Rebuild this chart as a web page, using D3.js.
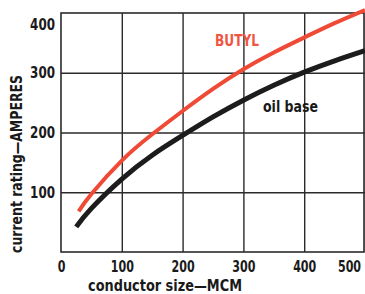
<!DOCTYPE html>
<html>
<head>
<meta charset="utf-8">
<script src="https://cdn.jsdelivr.net/npm/d3@7"></script>
<style>
  body { margin: 0; background: #fff; }
  svg { display: block; }
  text { font-family: "Liberation Sans Narrow", "DejaVu Sans Condensed", "Arial Narrow", sans-serif; font-weight: bold; }
</style>
</head>
<body>
<script>
const width = 365
const height = 294

// conductor size (MCM) and current rating (amperes)
const butylSize = [29, 50, 100, 150, 200, 250, 300, 350, 400, 450, 500]
const butylAmps = [68, 97, 153, 197, 236, 273, 306, 334, 359, 383, 405]
const oilSize = [25, 50, 100, 150, 200, 250, 300, 350, 400, 450, 500]
const oilAmps = [42, 73, 122, 162, 195, 226, 254, 279, 301, 320, 337]

const xTicks = [0, 100, 200, 300, 400, 500]
const yTicks = [100, 200, 300, 400]

const colors = {
    butyl: '#ef4a36',
    butylLabel: '#f0553f',
    oil: '#1c1c1c',
    grid: '#2b2b2b',
    text: '#1a1a1a'
}

const margin = {left: 61, top: 13, right: 0, bottom: 42}

const x = d3.scaleLinear().domain([0, 500]).range([margin.left, width - margin.right])
const y = d3.scaleLinear().domain([0, 400]).range([height - margin.bottom, margin.top])

const svg = d3.select('body')
    .append('svg')
    .attr('width', width)
    .attr('height', height)

// grid
svg.append('g')
    .attr('transform', `translate(0,${y(0)})`)
    .call(d3.axisBottom(x).tickValues(xTicks.slice(1)).tickSize(-(y(0) - y(400))).tickFormat(''))
    .call(g => g.select('.domain').remove())
    .call(g => g.selectAll('line').attr('stroke', colors.grid).attr('stroke-width', 1.4))

svg.append('g')
    .attr('transform', `translate(${x(0)},0)`)
    .call(d3.axisLeft(y).tickValues(yTicks.slice(0, 3)).tickSize(-(x(500) - x(0))).tickFormat(''))
    .call(g => g.select('.domain').remove())
    .call(g => g.selectAll('line').attr('stroke', colors.grid).attr('stroke-width', 1.4))

// frame
svg.append('rect')
    .attr('x', x(0))
    .attr('y', y(400))
    .attr('width', x(500) - x(0) - 1)
    .attr('height', y(0) - y(400))
    .attr('fill', 'none')
    .attr('stroke', colors.grid)
    .attr('stroke-width', 1.6)

// tick labels
svg.append('g')
    .attr('transform', `translate(0,${y(0)})`)
    .call(d3.axisBottom(x).tickValues(xTicks).tickSize(0).tickPadding(9))
    .call(g => g.select('.domain').remove())
    .call(g => g.selectAll('text')
        .attr('font-size', 15)
        .attr('fill', colors.text)
        .attr('textLength', d => String(d).length * 7.7)
        .attr('lengthAdjust', 'spacingAndGlyphs')
        .attr('dx', d => d == 500 ? -16 : 0))

svg.append('g')
    .attr('transform', `translate(${x(0)},0)`)
    .call(d3.axisLeft(y).tickValues(yTicks).tickSize(0).tickPadding(6))
    .call(g => g.select('.domain').remove())
    .call(g => g.selectAll('text')
        .attr('font-size', 16)
        .attr('fill', colors.text)
        .attr('textLength', d => String(d).length * 8.3)
        .attr('lengthAdjust', 'spacingAndGlyphs')
        .attr('dy', d => d == 400 ? '1.0em' : '0.32em'))

// curves
const line = d3.line()
    .x(d => x(d[0]))
    .y(d => y(d[1]))
    .curve(d3.curveNatural)

svg.append('path')
    .datum(oilSize.map((s, i) => [s, oilAmps[i]]))
    .attr('d', line)
    .attr('fill', 'none')
    .attr('stroke', colors.oil)
    .attr('stroke-width', 5)

svg.append('path')
    .datum(butylSize.map((s, i) => [s, butylAmps[i]]))
    .attr('d', line)
    .attr('fill', 'none')
    .attr('stroke', colors.butyl)
    .attr('stroke-width', 4)

// series labels
svg.append('text')
    .attr('x', 215)
    .attr('y', 46)
    .attr('font-size', 15)
    .attr('fill', colors.butylLabel)
    .attr('textLength', 44)
    .attr('lengthAdjust', 'spacingAndGlyphs')
    .text('BUTYL')

svg.append('text')
    .attr('x', 263)
    .attr('y', 112)
    .attr('font-size', 15)
    .attr('fill', colors.text)
    .attr('textLength', 55)
    .attr('lengthAdjust', 'spacingAndGlyphs')
    .text('oil base')

// axis titles
svg.append('text')
    .attr('x', 88)
    .attr('y', 291)
    .attr('font-size', 15)
    .attr('fill', colors.text)
    .attr('textLength', 154)
    .attr('lengthAdjust', 'spacingAndGlyphs')
    .text('conductor size\u2014MCM')

svg.append('text')
    .attr('transform', 'translate(22,253) rotate(-90)')
    .attr('font-size', 15)
    .attr('fill', colors.text)
    .attr('textLength', 178)
    .attr('lengthAdjust', 'spacingAndGlyphs')
    .text('current rating\u2014AMPERES')
</script>
</body>
</html>
